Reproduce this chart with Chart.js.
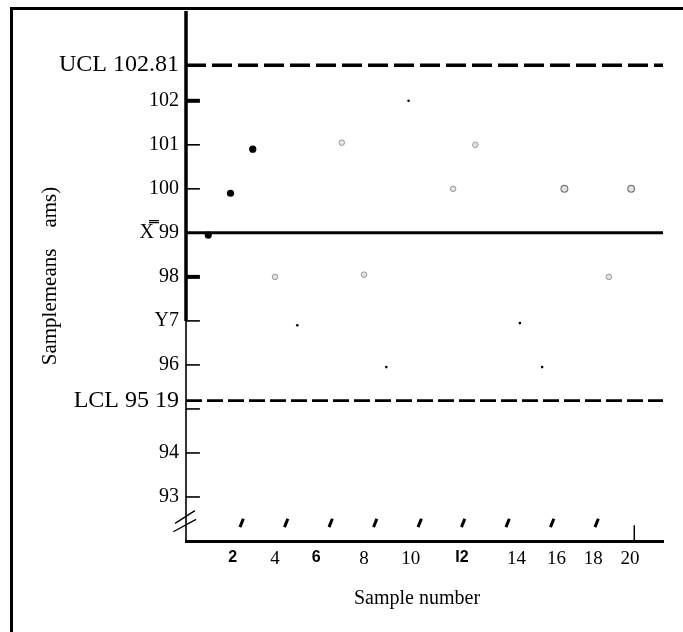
<!DOCTYPE html>
<html><head><meta charset="utf-8">
<script src="https://cdn.jsdelivr.net/npm/chart.js@4"></script>
<style>
html,body{margin:0;padding:0;background:#fff;}
#wrap{position:relative;width:683px;height:632px;overflow:hidden;background:#fff;}
#frame{position:absolute;left:10px;top:7px;right:-10px;bottom:-10px;border-top:3px solid #000;border-left:3px solid #000;pointer-events:none;}
canvas{position:absolute;left:0;top:0;}
</style></head><body>
<div id="wrap"><canvas id="c" width="683" height="632"></canvas><div id="frame"></div></div>
<script>
// ---- data ----
const sampleNumbers = [1,2,3,4,5,6,7,8,9,10,11,12,13,14,15,16,17,18,19,20];
const sampleMeans   = [98.95,99.9,100.9,98.0,96.9,null,101.05,98.05,95.95,102.0,null,100.0,101.0,null,96.95,95.95,100.0,null,98.0,100.0];
const markKinds     = ['big','big','big','gray','dot',null,'gray','gray','dot','dot',null,'gray','gray',null,'dot','dot','wide',null,'gray','wide'];
const UCL = 102.81, CENTER = 99, LCL = 95.19;
const yMin = 92, yMax = 104.04, xMin = 0, xMax = 21.43;
const yTickValues = [102.81,102,101,100,99,98,97,96,95.19,94,93];
const yTickLabels = ['UCL 102.81','102','101','100','X\u033F 99','98','Y7','96','LCL 95 19','94','93'];
const yMarkValues = [102,101,100,98,97,96,95.0,94,93];
const yMarkThick  = [true,false,false,true,false,false,false,false,false];
// tick labels as printed (positions as they appear on the scanned axis)
const xTickPositions = [2.1,4.0,5.85,8.0,10.1,12.4,14.85,16.65,18.3,19.95];
const xTickLabels    = ['2','4','6','8','10','I2','14','16','18','20'];
const scanMarkX = [2.5,4.5,6.5,8.5,10.5,12.45,14.45,16.45,18.45];
const scanMarkY = 92.41;
const xTitle = 'Sample number   ';
const yTitle = 'Samplemeans    ams)';

const pts = sampleNumbers.map((n,i)=>({x:n,y:sampleMeans[i]}));
const kindAt = c => markKinds[c.dataIndex];
const seg = (x1,y1,x2,y2,w,dash,color) => ({type:'line',data:[{x:x1,y:y1},{x:x2,y:y2}],borderColor:color||'#000',borderWidth:w,borderDash:dash||[],pointRadius:0,showLine:true,clip:false,fill:false,tension:0});

const datasets = [
  {type:'scatter',data:pts,clip:false,
   pointStyle:'circle',
   pointRadius:c=>({big:3.6,dot:1.3,gray:2.8,wide:3.4}[kindAt(c)]||0),
   pointBackgroundColor:c=>({big:'#000',dot:'#000',gray:'#e2e2e2',wide:'#e2e2e2'}[kindAt(c)]||'#000'),
   pointBorderColor:c=>({big:'#000',dot:'#000',gray:'#9a9a9a',wide:'#777'}[kindAt(c)]||'#000'),
   pointBorderWidth:c=>({big:0,dot:0,gray:1,wide:1.2}[kindAt(c)]||0)},
  {type:'scatter',data:yMarkValues.map(v=>({x:0.31,y:v})),clip:false,pointStyle:'line',pointRadius:7,
   pointBorderColor:'#000',pointBorderWidth:c=>yMarkThick[c.dataIndex]?4:1.6},
  {type:'scatter',data:scanMarkX.map(v=>({x:v,y:scanMarkY})),clip:false,pointStyle:'line',pointRadius:4.5,
   rotation:-68,pointBorderColor:'#000',pointBorderWidth:3},
  seg(xMin,UCL,xMax,UCL,3.5,[20,6]),
  seg(xMin,LCL,xMax,LCL,2.6,[16,5]),
  seg(xMin,CENTER,xMax,CENTER,3),
  seg(0,97,0,yMax,3.5),
  seg(0,yMin,0,97,1.6),
  seg(20.14,92.36,20.14,yMin,1.5),
  seg(-0.57,92.21,0.45,92.49,1.4),
  seg(-0.49,92.40,0.40,92.69,1.4)
];

new Chart(document.getElementById('c'),{
  type:'scatter',
  data:{datasets},
  options:{
    responsive:false,animation:false,
    layout:{padding:{left:0,right:20,top:10,bottom:0}},
    plugins:{legend:{display:false},tooltip:{enabled:false}},
    scales:{
      x:{type:'linear',min:xMin,max:xMax,
         afterBuildTicks:s=>{s.ticks=xTickPositions.map(v=>({value:v}));},
         afterFit:s=>{s.height=91;s.paddingLeft=0;s.paddingRight=0;},
         grid:{display:false,drawTicks:false},
         border:{display:true,color:'#000',width:3},
         ticks:{autoSkip:false,maxRotation:0,padding:7,color:'#000',
           callback:v=>{const i=xTickPositions.indexOf(v);return i<0?'':xTickLabels[i];},
           font:c=>{const i=c.tick?xTickPositions.indexOf(c.tick.value):-1;const l=xTickLabels[i];return (l==='2'||l==='6'||l==='I2')?{family:'Liberation Sans',size:16,weight:'bold'}:{family:'Liberation Serif',size:19};}},
         title:{display:true,text:xTitle,color:'#000',font:{family:'Liberation Serif',size:20},padding:{top:0,bottom:21}}},
      y:{type:'linear',min:yMin,max:yMax,
         afterBuildTicks:s=>{s.ticks=yTickValues.map(v=>({value:v}));},
         afterFit:s=>{s.width=186;s.paddingTop=0;s.paddingBottom=0;},
         grid:{display:false,drawTicks:false},
         border:{display:false},
         ticks:{autoSkip:false,padding:7,color:'#000',
           callback:v=>{const i=yTickValues.indexOf(v);return i<0?'':yTickLabels[i];},
           font:c=>{const v=c.tick&&c.tick.value;return (v===UCL||v===LCL)?{family:'Liberation Serif',size:24}:{family:'Liberation Serif',size:20};}},
         title:{display:true,text:yTitle,color:'#000',font:{family:'Liberation Serif',size:21},padding:{top:38,bottom:0}}}
    }
  }
});
</script>
</body></html>
